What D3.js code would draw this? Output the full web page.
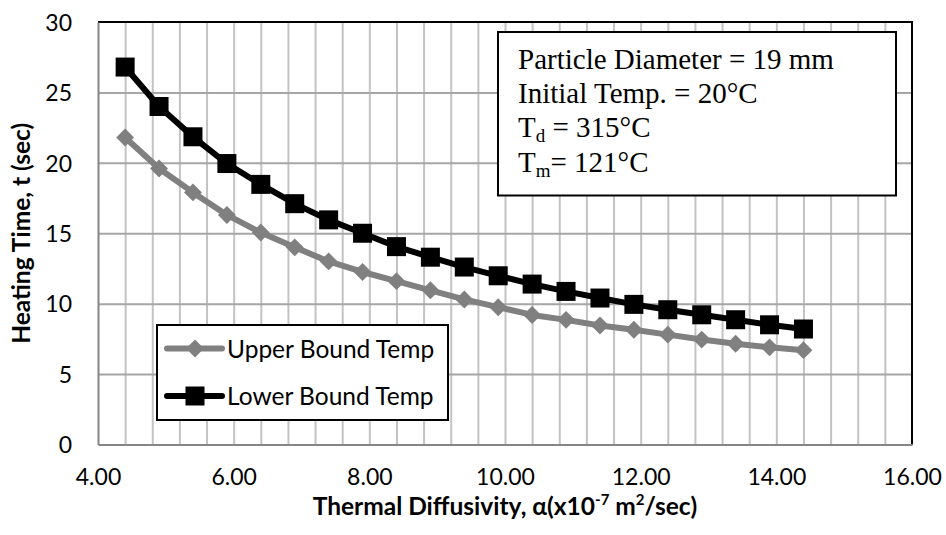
<!DOCTYPE html>
<html>
<head>
<meta charset="utf-8">
<script src="https://cdn.jsdelivr.net/npm/d3@7/dist/d3.min.js"></script>
<style>
  html, body { margin: 0; padding: 0; background: #fff; }
  svg { display: block; }
</style>
</head>
<body>
<svg id="chart" width="946" height="535"></svg>
<script>
// ---- Data ----
const alphaValues = [4.4, 4.9, 5.4, 5.9, 6.4, 6.9, 7.4, 7.9, 8.4, 8.9, 9.4, 9.9, 10.4, 10.9, 11.4, 11.9, 12.4, 12.9, 13.4, 13.9, 14.4];
const upperBoundTemp = [21.8, 19.6, 17.9, 16.3, 15.05, 14.0, 13.0, 12.25, 11.6, 10.95, 10.3, 9.75, 9.2, 8.85, 8.45, 8.15, 7.8, 7.45, 7.15, 6.9, 6.7];
const lowerBoundTemp = [26.8, 24.0, 21.85, 19.95, 18.47, 17.1, 15.95, 15.0, 14.05, 13.3, 12.6, 11.98, 11.39, 10.87, 10.4, 9.95, 9.57, 9.21, 8.86, 8.5, 8.2];
const seriesNames = ["Upper Bound Temp", "Lower Bound Temp"];
const xTickValues = [4, 6, 8, 10, 12, 14, 16];
const yTickValues = [0, 5, 10, 15, 20, 25, 30];
const annotationLines = [
  [{t: "Particle Diameter = 19 mm"}],
  [{t: "Initial Temp. = 20°C"}],
  [{t: "T"}, {t: "d", sub: true}, {t: " = 315°C"}],
  [{t: "T"}, {t: "m", sub: true}, {t: "= 121°C"}]
];

// ---- Layout ----
const svg = d3.select("#chart");
const L = 98, R = 912, T = 22, B = 444.5;
const x = d3.scaleLinear().domain([4, 16]).range([L, R]);
const y = d3.scaleLinear().domain([0, 30]).range([B, T]);
const font = "Lato, 'Open Sans', sans-serif";

svg.append("rect").attr("width", 946).attr("height", 535).attr("fill", "#fff");

// vertical minor gridlines (every 0.4)
const vGrid = d3.range(1, 30).map(i => 4 + i * 0.4);
svg.append("g")
  .attr("transform", `translate(0,${B})`)
  .call(d3.axisBottom(x).tickValues(vGrid).tickSize(-(B - T)).tickFormat(""))
  .call(g => g.select(".domain").remove())
  .call(g => g.selectAll("line").attr("stroke", "#c3c3c3").attr("stroke-width", 2));

// horizontal gridlines
svg.append("g")
  .attr("transform", `translate(${L},0)`)
  .call(d3.axisLeft(y).tickValues([5, 10, 15, 20, 25]).tickSize(-(R - L)).tickFormat(""))
  .call(g => g.select(".domain").remove())
  .call(g => g.selectAll("line").attr("stroke", "#a6a6a6").attr("stroke-width", 2));

// plot area border (top/right black)
svg.append("path")
  .attr("d", `M${L},${T}H${R}V${B}`)
  .attr("fill", "none").attr("stroke", "#000").attr("stroke-width", 2);

// axes
const xAxis = svg.append("g")
  .attr("transform", `translate(0,${B})`)
  .call(d3.axisBottom(x).tickValues(xTickValues).tickSize(0).tickPadding(0).tickFormat(d3.format(".2f")));
xAxis.select(".domain").attr("stroke", "#868686").attr("stroke-width", 2);
xAxis.selectAll("text")
  .attr("y", 40.5).attr("dy", null)
  .attr("font-family", font).attr("font-size", 23).attr("fill", "#000");

const yAxis = svg.append("g")
  .attr("transform", `translate(${L},0)`)
  .call(d3.axisLeft(y).tickValues(yTickValues).tickSize(0).tickPadding(0));
yAxis.select(".domain").attr("stroke", "#868686").attr("stroke-width", 2);
yAxis.selectAll("text")
  .attr("x", -26).attr("dy", "0.36em")
  .attr("font-family", font).attr("font-size", 23).attr("fill", "#000");

// ---- Series ----
const line = d3.line().x((d, i) => x(alphaValues[i])).y(d => y(d));
const diamond = d3.symbol(d3.symbolSquare, 160);
const square = d3.symbol(d3.symbolSquare, 361);

svg.append("path").datum(upperBoundTemp)
  .attr("d", line).attr("fill", "none").attr("stroke", "#808080")
  .attr("stroke-width", 6).attr("stroke-linejoin", "round").attr("stroke-linecap", "round");
svg.append("g").selectAll("path").data(upperBoundTemp).join("path")
  .attr("d", diamond)
  .attr("transform", (d, i) => `translate(${x(alphaValues[i])},${y(d)}) rotate(45)`)
  .attr("fill", "#808080");

svg.append("path").datum(lowerBoundTemp)
  .attr("d", line).attr("fill", "none").attr("stroke", "#000")
  .attr("stroke-width", 6).attr("stroke-linejoin", "round").attr("stroke-linecap", "round");
svg.append("g").selectAll("path").data(lowerBoundTemp).join("path")
  .attr("d", square)
  .attr("transform", (d, i) => `translate(${x(alphaValues[i])},${y(d)})`)
  .attr("fill", "#000");

// ---- Axis titles ----
const xt = svg.append("text")
  .attr("x", (L + R) / 2).attr("y", 514.5)
  .attr("text-anchor", "middle")
  .attr("font-family", font).attr("font-weight", "bold").attr("font-size", 24.5).attr("fill", "#000");
xt.append("tspan").text("Thermal Diffusivity, α(x10");
xt.append("tspan").attr("font-size", 15).attr("dy", -10).text("-7");
xt.append("tspan").attr("dy", 10).text(" m");
xt.append("tspan").attr("font-size", 15).attr("dy", -10).text("2");
xt.append("tspan").attr("dy", 10).text("/sec)");

svg.append("text")
  .attr("transform", `translate(30,${(T + B) / 2}) rotate(-90)`)
  .attr("text-anchor", "middle")
  .attr("font-family", font).attr("font-weight", "bold").attr("font-size", 24.5).attr("fill", "#000")
  .text("Heating Time, t (sec)");

// ---- Legend ----
const lg = svg.append("g");
lg.append("rect").attr("x", 157).attr("y", 325).attr("width", 291).attr("height", 95)
  .attr("fill", "#fff").attr("stroke", "#000").attr("stroke-width", 2);
const legendItems = [
  {name: seriesNames[0], color: "#808080", sym: diamond, rot: 45, cy: 348.5},
  {name: seriesNames[1], color: "#000", sym: square, rot: 0, cy: 396}
];
legendItems.forEach(it => {
  lg.append("line").attr("x1", 167).attr("x2", 222).attr("y1", it.cy).attr("y2", it.cy)
    .attr("stroke", it.color).attr("stroke-width", 6).attr("stroke-linecap", "round");
  lg.append("path").attr("d", it.sym)
    .attr("transform", `translate(195,${it.cy}) rotate(${it.rot})`).attr("fill", it.color);
  lg.append("text").attr("x", 227).attr("y", it.cy + 9)
    .attr("font-family", font).attr("font-size", 24.5).attr("fill", "#000").text(it.name);
});

// ---- Annotation box ----
const ab = svg.append("g");
ab.append("rect").attr("x", 498).attr("y", 32).attr("width", 398).attr("height", 163.5)
  .attr("fill", "#fff").attr("stroke", "#000").attr("stroke-width", 2);
annotationLines.forEach((parts, i) => {
  const t = ab.append("text").attr("x", 518).attr("y", 74 + i * 34.2)
    .attr("font-family", "'Liberation Serif', 'Times New Roman', serif")
    .attr("font-size", 29).attr("fill", "#000");
  parts.forEach(p => {
    if (p.sub) t.append("tspan").attr("font-size", 19).attr("dy", 5).text(p.t);
    else t.append("tspan").attr("dy", t.selectAll("tspan").size() ? -5 : 0).text(p.t);
  });
});
</script>
</body>
</html>
